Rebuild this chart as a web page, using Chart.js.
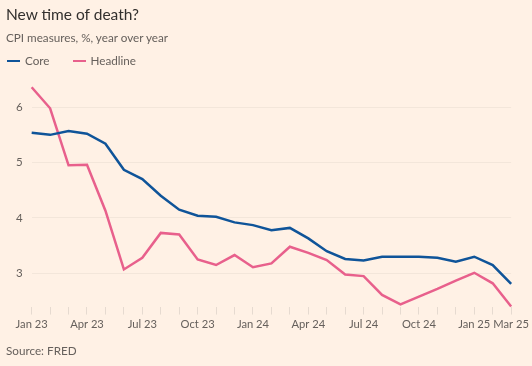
<!DOCTYPE html>
<html>
<head>
<meta charset="utf-8">
<script src="https://cdn.jsdelivr.net/npm/chart.js@4"></script>
<style>
  html, body { margin: 0; padding: 0; background: #FFF1E5; }
  #wrap { position: relative; width: 532px; height: 366px; font-family: Lato, sans-serif; }
  #wrap canvas { position: absolute; left: 0; top: 0; }
  .txt { position: absolute; white-space: nowrap; }
  #title { left: 6px; top: 5px; font-size: 15.5px; color: #33302E; }
  #subtitle { left: 6px; top: 30px; font-size: 11.7px; color: #66605C; }
  #legend { left: 7px; top: 53px; font-size: 11.7px; color: #66605C; }
  #legend span.key { display: inline-block; width: 13px; height: 2.5px; vertical-align: middle; margin-right: 5px; position: relative; top: -1px; }
  #legend span.item { margin-right: 23px; }
  #source { left: 6px; top: 343px; font-size: 11.7px; color: #66605C; }
</style>
</head>
<body>
<div id="wrap">
  <canvas id="cpiChart" width="532" height="366"></canvas>
  <div class="txt" id="title">New time of death?</div>
  <div class="txt" id="subtitle">CPI measures, %, year over year</div>
  <div class="txt" id="legend"></div>
  <div class="txt" id="source">Source: FRED</div>
</div>
<script>
var months = ["Jan 23","Feb 23","Mar 23","Apr 23","May 23","Jun 23","Jul 23","Aug 23","Sep 23","Oct 23","Nov 23","Dec 23",
              "Jan 24","Feb 24","Mar 24","Apr 24","May 24","Jun 24","Jul 24","Aug 24","Sep 24","Oct 24","Nov 24","Dec 24",
              "Jan 25","Feb 25","Mar 25"];
var shownLabels = ["Jan 23","Apr 23","Jul 23","Oct 23","Jan 24","Apr 24","Jul 24","Oct 24","Jan 25","Mar 25"];
var coreValues = [5.54, 5.50, 5.57, 5.52, 5.34, 4.87, 4.70, 4.40, 4.15, 4.04, 4.02, 3.92, 3.87, 3.78, 3.82, 3.63, 3.40, 3.26,
                  3.23, 3.30, 3.30, 3.30, 3.28, 3.21, 3.30, 3.15, 2.81];
var headlineValues = [6.36, 5.98, 4.95, 4.96, 4.13, 3.07, 3.28, 3.73, 3.70, 3.25, 3.15, 3.33, 3.11, 3.18, 3.48, 3.37, 3.24, 2.98,
                      2.95, 2.61, 2.44, 2.58, 2.72, 2.87, 3.01, 2.82, 2.40];
var yTicks = [3, 4, 5, 6];

var coreColor = '#0F5499';
var headlineColor = '#E8608C';
var textColor = '#66605C';
var fontFamily = 'Lato, sans-serif';

var chart = new Chart("cpiChart", {
  type: "line",
  data: {
    labels: months,
    datasets: [{
      label: "Core",
      data: coreValues,
      borderColor: coreColor,
      backgroundColor: coreColor,
      borderWidth: 2.5,
      pointRadius: 0,
      tension: 0,
      clip: false
    }, {
      label: "Headline",
      data: headlineValues,
      borderColor: headlineColor,
      backgroundColor: headlineColor,
      borderWidth: 2.5,
      pointRadius: 0,
      tension: 0,
      clip: false
    }]
  },
  options: {
    responsive: false,
    animation: false,
    layout: { padding: { left: 7, right: 20, top: 85, bottom: 32 } },
    plugins: {
      legend: { display: false },
      tooltip: { enabled: false }
    },
    scales: {
      x: {
        border: { display: false },
        grid: { drawOnChartArea: false, drawTicks: true, tickLength: 8, color: '#E6DAD0' },
        ticks: {
          autoSkip: false,
          maxRotation: 0,
          color: textColor,
          font: { family: fontFamily, size: 11.2 },
          padding: 3,
          callback: function (v, i) {
            var l = months[i];
            return shownLabels.indexOf(l) >= 0 ? l : '';
          }
        }
      },
      y: {
        min: 2.4,
        max: 6.4,
        border: { display: false },
        grid: { color: '#F3E6DA', drawTicks: false },
        afterBuildTicks: function (axis) {
          axis.ticks = yTicks.map(function (v) { return { value: v }; });
        },
        ticks: {
          color: textColor,
          font: { family: fontFamily, size: 11.5 },
          padding: 9
        }
      }
    }
  },
  plugins: [{
    id: 'bg',
    beforeDraw: function (c) {
      var ctx = c.ctx;
      ctx.save();
      ctx.fillStyle = '#FFF1E5';
      ctx.fillRect(0, 0, c.width, c.height);
      ctx.restore();
    }
  }]
});

// html legend built from the datasets
var legend = document.getElementById('legend');
chart.data.datasets.forEach(function (ds) {
  var item = document.createElement('span');
  item.className = 'item';
  item.innerHTML = '<span class="key" style="background:' + ds.borderColor + '"></span>' + ds.label;
  legend.appendChild(item);
});
</script>
</body>
</html>
